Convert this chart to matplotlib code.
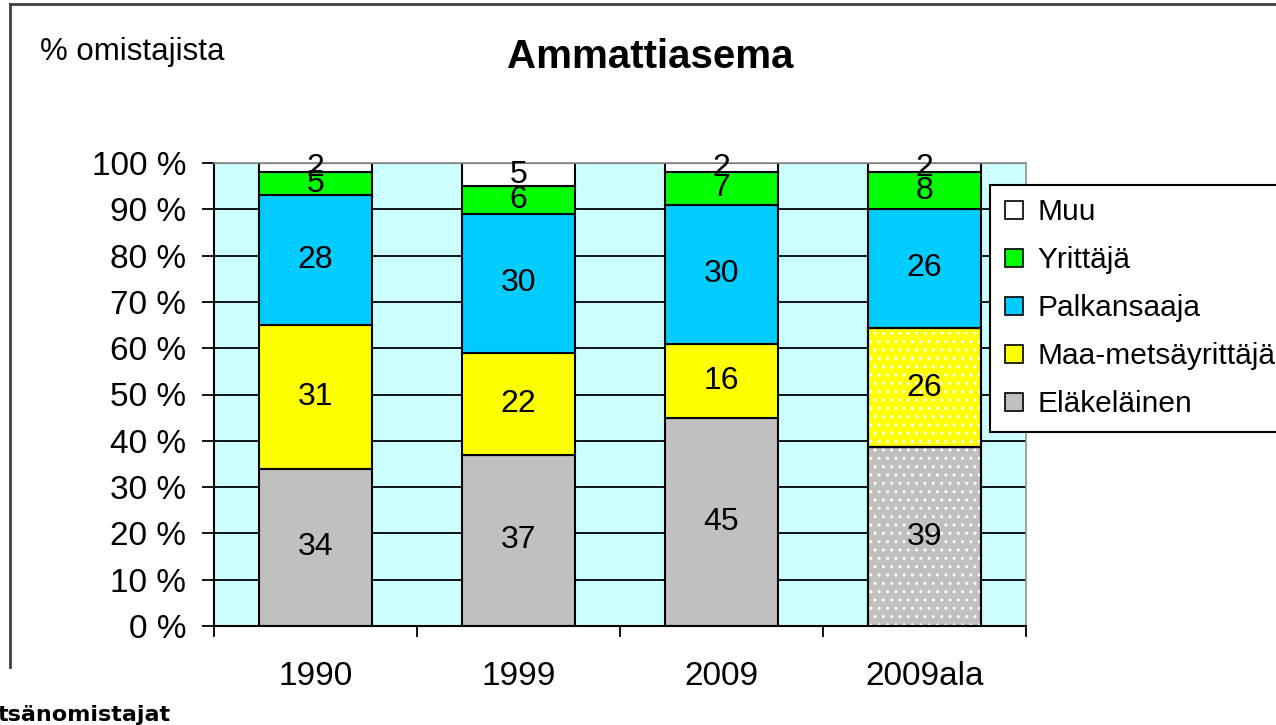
import matplotlib
matplotlib.use('Agg')
import matplotlib.pyplot as plt
from matplotlib.lines import Line2D
import numpy as np

plt.rcParams['font.family'] = ['Liberation Sans', 'DejaVu Sans']

# Data (stacked from the bottom up)
years = ['1990', '1999', '2009', '2009ala']
series_names = ['Eläkeläinen', 'Maa-metsäyrittäjä', 'Palkansaaja', 'Yrittäjä', 'Muu']
elakelainen = [34, 37, 45, 39]
maametsa = [31, 22, 16, 26]
palkansaaja = [28, 30, 30, 26]
yrittaja = [5, 6, 7, 8]
muu = [2, 5, 2, 2]
y_ticks = [0, 10, 20, 30, 40, 50, 60, 70, 80, 90, 100]

colors = ['#C0C0C0', '#FFFF00', '#00CCFF', '#00FF00', '#FFFFFF']
dotted_year = 3        # the 2009ala bar has a dot pattern
dotted_series = [0, 1]  # only on the two lowest segments

W, H = 1276, 725
fig = plt.figure(figsize=(W / 100, H / 100), dpi=100)
fig.patch.set_facecolor('white')
ax = fig.add_axes([214 / W, 1 - 626 / H, (1026 - 214) / W, (626 - 163) / H])
ax.set_facecolor('#CCFFFF')

data = np.array([elakelainen, maametsa, palkansaaja, yrittaja, muu], dtype=float)
pct = data / data.sum(axis=0) * 100   # 100 % stacked
x = np.arange(len(years))
bw = 0.56

bottom = np.zeros(len(years))
handles = []
for i, name in enumerate(series_names):
    ax.bar(x, pct[i], bw, bottom=bottom, color=colors[i],
           edgecolor='black', linewidth=1.5, zorder=2)
    handles.append(Line2D([], [], marker='s', linestyle='none', markersize=13,
                          markerfacecolor=colors[i], markeredgecolor='black',
                          markeredgewidth=1.2, label=name))
    if i in dotted_series:
        ax.bar(x[dotted_year], pct[i][dotted_year], bw, bottom=bottom[dotted_year],
               fill=False, hatch='..', edgecolor='white', linewidth=0, zorder=3)
        ax.bar(x[dotted_year], pct[i][dotted_year], bw, bottom=bottom[dotted_year],
               fill=False, edgecolor='black', linewidth=1.5, zorder=4)
    for j in range(len(years)):
        ax.text(x[j], bottom[j] + pct[i][j] / 2, f'{int(data[i][j])}',
                ha='center', va='center', fontsize=23, color='black', zorder=5)
    bottom += pct[i]

ax.set_xlim(-0.5, len(years) - 0.5)
ax.set_ylim(0, 100)
ax.set_yticks(y_ticks)
ax.set_yticklabels([f'{t} %' for t in y_ticks], fontsize=24)
ax.tick_params(axis='y', length=9, width=1.3, pad=11, color='black')

ax.set_xticks(np.arange(-0.5, len(years), 1.0))
ax.set_xticklabels([])
ax.tick_params(axis='x', which='major', length=8, width=1.3, color='black')
ax.set_xticks(x, minor=True)
ax.set_xticklabels(years, minor=True, fontsize=24)
ax.tick_params(axis='x', which='minor', length=0, pad=25)

ax.yaxis.grid(True, color='black', linewidth=1.3)
ax.set_axisbelow(True)
for s in ['left', 'bottom']:
    ax.spines[s].set_color('black')
    ax.spines[s].set_linewidth(1.5)
for s in ['top', 'right']:
    ax.spines[s].set_color('#909090')
    ax.spines[s].set_linewidth(1.2)

# Legend (top entry first), runs off the right edge like the screenshot
leg = fig.legend(handles=handles[::-1], loc='upper left',
                 bbox_to_anchor=(990 / W, 1 - 185 / H), fontsize=21.5,
                 frameon=True, fancybox=False, framealpha=1,
                 edgecolor='black', handlelength=0.7, handletextpad=0.45,
                 labelspacing=0.67, borderpad=0.45, borderaxespad=0)
leg.get_frame().set_linewidth(1.5)

fig.text(650 / W, 1 - 57 / H, 'Ammattiasema', ha='center', va='center',
         fontsize=29, fontweight='bold')
fig.text(40 / W, 1 - 52 / H, '% omistajista', ha='left', va='center', fontsize=22.5)

# Chart frame (partly cut off in the screenshot)
fig.add_artist(Line2D([10 / W, 10 / W], [1 - 667 / H, 1 - 4 / H],
                      color='#404040', linewidth=2, transform=fig.transFigure))
fig.add_artist(Line2D([10 / W, 1.0], [1 - 4 / H, 1 - 4 / H],
                      color='#404040', linewidth=2, transform=fig.transFigure))

# text of the document below the chart, cut off at the edge
fig.text(-2 / W, 1 - 705 / H, 'tsänomistajat', ha='left', va='top',
         fontsize=16, fontweight='bold', family=['DejaVu Sans'])

fig.savefig('out.png', dpi=100, facecolor='white')
plt.close(fig)
